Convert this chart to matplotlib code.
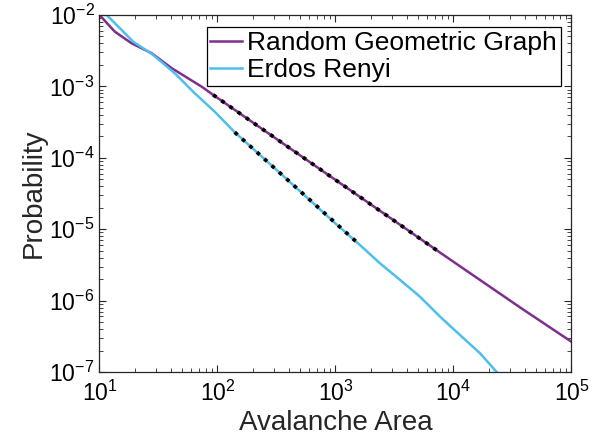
import matplotlib
matplotlib.use("Agg")
import matplotlib.pyplot as plt
import numpy as np

plt.rcParams['font.family'] = ['Liberation Sans', 'DejaVu Sans']
plt.rcParams['mathtext.fontset'] = 'custom'
plt.rcParams['mathtext.rm'] = 'Liberation Sans'

# ---- data ----
rgg_x = [10, 13.5, 18.7, 27.7, 40.9, 73.5, 92, 300, 1000, 3000, 7700,
         36560, 1e5]
rgg_y = [1e-2, 5.83e-3, 4.02e-3, 2.91e-3, 1.80e-3, 9.9e-4, 7.6e-4, 1.95e-4,
         4.9e-5, 1.39e-5, 4.7e-6, 8.05e-7, 2.65e-7]

er_x = [10, 11.5, 15.4, 19.3, 28.6, 43.6, 63.2, 95.3, 140, 400, 1000, 1560,
        2382, 3524, 5200, 7690, 11350, 16790, 23200, 30000]
er_y = [1.26e-2, 1e-2, 6.17e-3, 4.23e-3, 2.75e-3, 1.52e-3, 8.2e-4, 4.38e-4,
        2.28e-4, 4.77e-5, 1.2e-5, 6.3e-6, 3.33e-6, 1.95e-6, 1.135e-6,
        5.96e-7, 3.3e-7, 1.83e-7, 1e-7, 6.2e-8]

# power-law fits (black dotted)
rgg_fit_x = [92, 7700]
rgg_fit_y = [7.6e-4, 4.7e-6]
er_fit_x = [140, 1560]
er_fit_y = [2.28e-4, 6.3e-6]

purple = '#7E2F8E'
cyan = '#4DBEEE'

fig = plt.figure(figsize=(5.95, 4.46), dpi=100)
ax = fig.add_axes([0.1672, 0.1659, 0.7933, 0.8005])

ax.loglog(rgg_x, rgg_y, color=purple, lw=1.8, label='Random Geometric Graph')
ax.loglog(er_x, er_y, color=cyan, lw=1.8, label='Erdos Renyi')
ax.loglog(rgg_fit_x, rgg_fit_y, color='k', ls=':', lw=2.7)
ax.loglog(er_fit_x, er_fit_y, color='k', ls=':', lw=2.7)

ax.set_xlim(10, 1e5)
ax.set_ylim(1e-7, 1e-2)

ax.tick_params(which='both', direction='in', top=True, right=True,
               labelsize=16.5, color='#262626')
ax.tick_params(axis='x', pad=6)
ax.tick_params(which='major', length=5)
ax.tick_params(which='minor', length=3)
for s in ax.spines.values():
    s.set_linewidth(0.9)
    s.set_color('#262626')

ax.set_xlabel('Avalanche Area', fontsize=20, color='#262626', labelpad=3)
ax.set_ylabel('Probability', fontsize=20, color='#262626', labelpad=2)

leg = ax.legend(loc='upper right', fontsize=19, handlelength=1.2,
                handletextpad=0.2, borderpad=0.15, labelspacing=0.12,
                fancybox=False, framealpha=1, edgecolor='k',
                borderaxespad=0, bbox_to_anchor=(0.978, 0.966))
leg.get_frame().set_linewidth(0.9)

plt.savefig('out.png', dpi=100)
